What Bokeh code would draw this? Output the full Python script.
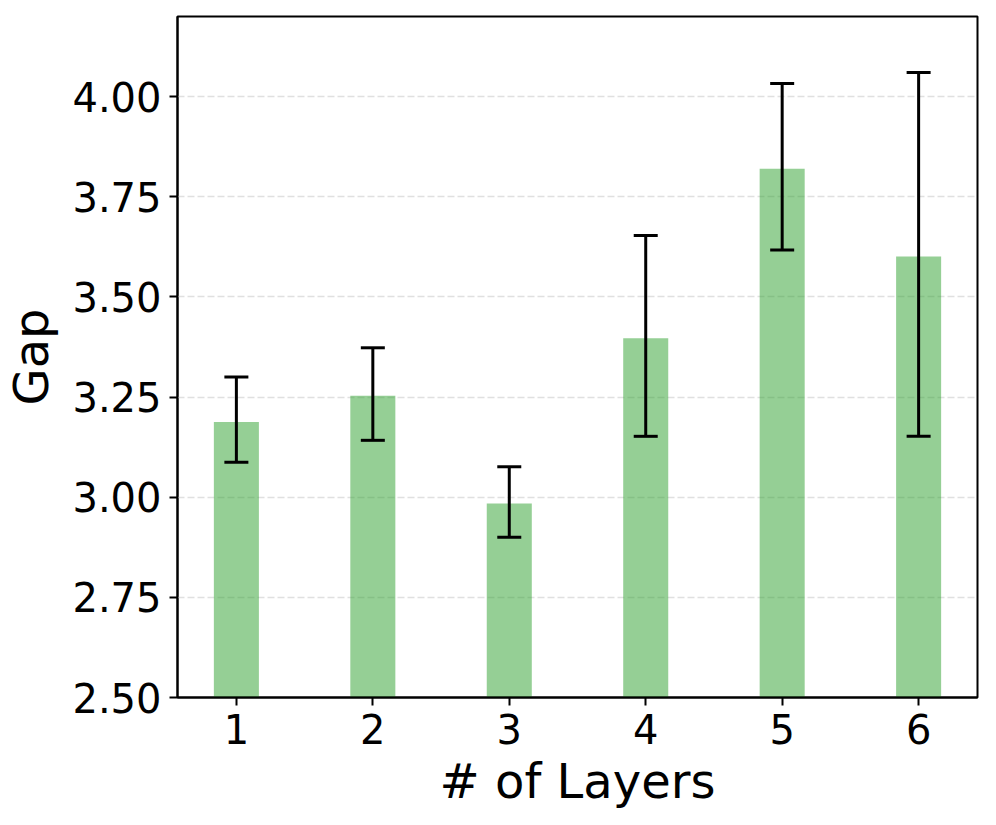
from bokeh.plotting import figure
from bokeh.models import Range1d, FixedTicker, NumeralTickFormatter, Whisker, TeeHead, ColumnDataSource
from bokeh.embed import file_html
from bokeh.resources import INLINE

layers = [1, 2, 3, 4, 5, 6]
gap_mean = [3.188, 3.253, 2.984, 3.397, 3.820, 3.601]
gap_lower = [3.087, 3.142, 2.900, 3.152, 3.617, 3.152]
gap_upper = [3.300, 3.373, 3.076, 3.653, 4.033, 4.060]
y_ticks = [2.5, 2.75, 3.0, 3.25, 3.5, 3.75, 4.0]

src = ColumnDataSource(dict(x=layers, top=gap_mean, lower=gap_lower, upper=gap_upper))

p = figure(frame_width=800, frame_height=681, output_backend="svg", toolbar_location=None,
           x_range=Range1d(0.5685, 6.4315), y_range=Range1d(2.5, 4.2),
           min_border_left=170, min_border_right=10, min_border_top=16, min_border_bottom=100)
p.background_fill_color = "white"
p.border_fill_color = "white"
p.outline_line_color = "black"
p.outline_line_width = 2

p.vbar(x="x", top="top", bottom=0, width=0.33, source=src,
       fill_color="#2ca02c", fill_alpha=0.5, line_color=None)

w = Whisker(base="x", lower="lower", upper="upper", source=src,
            line_color="black", line_width=3, level="overlay",
            lower_head=TeeHead(size=24, line_color="black", line_width=3),
            upper_head=TeeHead(size=24, line_color="black", line_width=3))
p.add_layout(w)

p.xgrid.visible = False
p.ygrid.grid_line_color = "#e0e0e0"
p.ygrid.grid_line_width = 1.5
p.ygrid.grid_line_dash = "7 3"
p.ygrid.ticker = FixedTicker(ticks=y_ticks)

p.xaxis.ticker = FixedTicker(ticks=layers)
p.yaxis.ticker = FixedTicker(ticks=y_ticks)
p.yaxis.formatter = NumeralTickFormatter(format="0.00")

for ax in (p.xaxis, p.yaxis):
    ax.axis_line_color = "black"
    ax.axis_line_width = 2
    ax.major_tick_line_color = "black"
    ax.major_tick_line_width = 2
    ax.major_tick_out = 8
    ax.major_tick_in = 0
    ax.minor_tick_line_color = None
    ax.major_label_text_font = "DejaVu Sans"
    ax.major_label_text_font_size = "40px"
    ax.major_label_text_color = "black"
    ax.major_label_standoff = 8
    ax.axis_label_text_font = "DejaVu Sans"
    ax.axis_label_text_font_size = "48px"
    ax.axis_label_text_font_style = "normal"
    ax.axis_label_text_color = "black"

p.xaxis.axis_label_standoff = 6
p.yaxis.axis_label_standoff = 10

p.xaxis.axis_label = "# of Layers"
p.yaxis.axis_label = "Gap"

open("out.html", "w").write(file_html(p, INLINE))
